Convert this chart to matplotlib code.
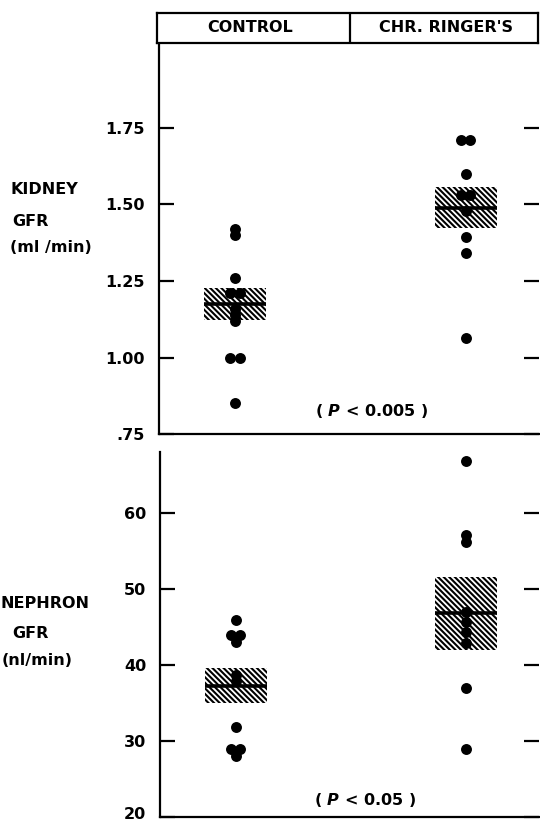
import matplotlib
matplotlib.use('Agg')
import matplotlib.pyplot as plt
import matplotlib.transforms as mtransforms
import numpy as np
from collections import Counter

plt.rcParams['font.family'] = ['DejaVu Sans']
plt.rcParams['font.weight'] = 'bold'
plt.rcParams['mathtext.fontset'] = 'custom'
plt.rcParams['mathtext.it'] = 'DejaVu Sans:italic:bold'
plt.rcParams['mathtext.rm'] = 'DejaVu Sans:bold'
plt.rcParams['hatch.linewidth'] = 1.5

# ---------------- data ----------------
groups = ['CONTROL', "CHR. RINGER'S"]

kidney_control = [1.42, 1.40, 1.26, 1.21, 1.21, 1.16, 1.14, 1.12, 1.00, 1.00, 0.85]
kidney_ringer = [1.71, 1.71, 1.60, 1.53, 1.53, 1.48, 1.395, 1.34, 1.065]
kidney_mean = [1.175, 1.49]
kidney_se = [0.052, 0.068]
kidney_ticks = [0.75, 1.00, 1.25, 1.50, 1.75]
kidney_ticklabels = ['.75', '1.00', '1.25', '1.50', '1.75']
kidney_p = '( $P$ < 0.005 )'

nephron_control = [45.9, 43.9, 43.9, 43.0, 38.7, 37.9, 31.8, 28.9, 28.9, 28.0]
nephron_ringer = [66.9, 57.1, 56.2, 47.0, 45.6, 44.3, 42.9, 37.0, 28.9]
nephron_mean = [37.3, 46.8]
nephron_se = [2.3, 4.8]
nephron_ticks = [20, 30, 40, 50, 60]
nephron_ticklabels = ['20', '30', '40', '50', '60']
nephron_p = '( $P$ < 0.05 )'

# ---------------- layout ----------------
W, H = 540, 821
fig = plt.figure(figsize=(W / 100, H / 100), dpi=100)


def fx(px):
    return px / W


def fy(py):
    return 1 - py / H


group_x = [0.20, 0.807]
box_w = 0.163
dx = 0.012


def jitter(x, vals):
    cnt = Counter(vals)
    seen = Counter()
    xs = []
    for v in vals:
        if cnt[v] == 2:
            xs.append(x - dx if seen[v] == 0 else x + dx)
        else:
            xs.append(x)
        seen[v] += 1
    return xs


def panel(ax, controls, ringers, means, ses, ylim, ticks, ticklabels, ptext, pxy):
    ax.set_xlim(0, 1)
    ax.set_ylim(*ylim)
    for x, m, s in zip(group_x, means, ses):
        ax.bar(x, 2 * s, bottom=m - s, width=box_w, facecolor='white',
               edgecolor='black', linewidth=0, hatch='\\' * 6, zorder=2)
        ax.plot([x - box_w / 2, x + box_w / 2], [m, m], color='black',
                lw=2.6, zorder=3, solid_capstyle='butt')
    for x, vals in zip(group_x, [controls, ringers]):
        ax.scatter(jitter(x, vals), vals, s=62, color='black', linewidths=0,
                   zorder=4)
    ax.set_yticks(ticks)
    ax.set_yticklabels(ticklabels)
    ax.tick_params(axis='y', direction='in', length=11, width=1.6, pad=10,
                   right=True, labelsize=11.5, colors='black')
    ax.set_xticks([])
    for side in ['top', 'right']:
        ax.spines[side].set_visible(False)
    for side in ['left', 'bottom']:
        ax.spines[side].set_linewidth(1.6)
    ax.text(pxy[0], pxy[1], ptext, transform=ax.transAxes, ha='center',
            va='center', fontsize=11.5, fontweight='bold')


ax1 = fig.add_axes([fx(159), fy(434), fx(539) - fx(159), fy(43) - fy(434)])
panel(ax1, kidney_control, kidney_ringer, kidney_mean, kidney_se,
      (0.75, 0.75 + 391 / 306), kidney_ticks, kidney_ticklabels, kidney_p,
      (0.56, 0.059))

ax2 = fig.add_axes([fx(160), fy(817), fx(539) - fx(160), fy(452) - fy(817)])
panel(ax2, nephron_control, nephron_ringer, nephron_mean, nephron_se,
      (20, 20 + 365 / 7.6), nephron_ticks, nephron_ticklabels, nephron_p,
      (0.54, 0.047))

# lift the lowest tick label so it stays inside the figure
fig.canvas.draw()
lab = ax2.get_yticklabels()[0]
lab.set_transform(lab.get_transform() +
                  mtransforms.ScaledTranslation(0, 4 / 100, fig.dpi_scale_trans))

# header
hdr = fig.add_axes([fx(157), fy(43), fx(538) - fx(157), fy(13) - fy(43)])
hdr.set_xlim(0, 1)
hdr.set_ylim(0, 1)
hdr.set_xticks([])
hdr.set_yticks([])
for sp in hdr.spines.values():
    sp.set_linewidth(1.6)
hdr.axvline((350 - 157) / 381, color='black', lw=1.6)
hdr.text((250 - 157) / 381, 0.5, groups[0], ha='center', va='center',
         fontsize=11.5, fontweight='bold')
hdr.text((446 - 157) / 381, 0.5, groups[1], ha='center', va='center',
         fontsize=11.5, fontweight='bold')

# side labels
for txt, x, y in [('KIDNEY', 10, 189), ('GFR', 12, 221), ('(ml /min)', 10, 248),
                  ('NEPHRON', 0, 603), ('GFR', 12, 633), ('(nl/min)', 2, 660)]:
    fig.text(fx(x), fy(y), txt, ha='left', va='center', fontsize=11.5,
             fontweight='bold')

fig.savefig('out.png', dpi=100, facecolor='white')
